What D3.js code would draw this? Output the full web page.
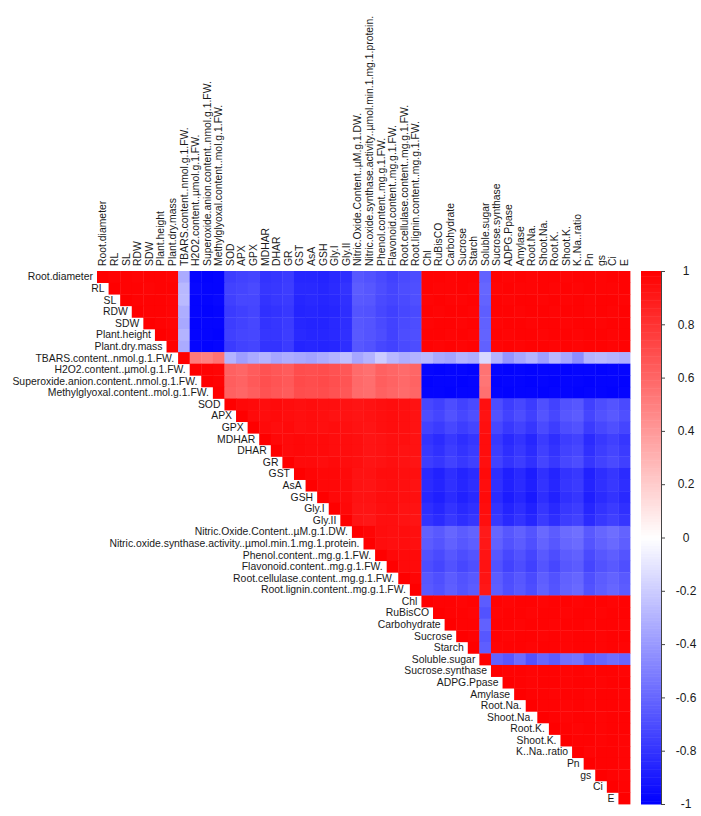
<!DOCTYPE html>
<html>
<head>
<meta charset="utf-8">
<script src="https://cdn.jsdelivr.net/npm/d3@7"></script>
<style>
  body { margin: 0; background: #fff; }
  text { font-family: "Liberation Sans", Arial, sans-serif; fill: #1a1a1a; }
</style>
</head>
<body>
<svg width="701" height="816"></svg>
<script>
const width = 701;
const height = 816;

// variable names (row / column order)
const labels = [
  "Root.diameter", "RL", "SL", "RDW", "SDW", "Plant.height", "Plant.dry.mass",
  "TBARS.content..nmol.g.1.FW.", "H2O2.content..\u00b5mol.g.1.FW.",
  "Superoxide.anion.content..nmol.g.1.FW.", "Methylglyoxal.content..mol.g.1.FW.",
  "SOD", "APX", "GPX", "MDHAR", "DHAR", "GR", "GST", "AsA", "GSH", "Gly.I", "Gly.II",
  "Nitric.Oxide.Content..\u00b5M.g.1.DW.",
  "Nitric.oxide.synthase.activity..\u00b5mol.min.1.mg.1.protein.",
  "Phenol.content..mg.g.1.FW.", "Flavonoid.content..mg.g.1.FW.",
  "Root.cellulase.content..mg.g.1.FW.", "Root.lignin.content..mg.g.1.FW.",
  "Chl", "RuBisCO", "Carbohydrate", "Sucrose", "Starch", "Soluble.sugar",
  "Sucrose.synthase", "ADPG.Ppase", "Amylase", "Root.Na.", "Shoot.Na.", "Root.K.",
  "Shoot.K.", "K..Na..ratio", "Pn", "gs", "Ci", "E"
];

// upper triangle of the correlation matrix, each row starts at the diagonal
const upper = [
  [1,0.99,0.99,0.98,0.99,0.99,0.98, -0.33, -0.98,-0.99,-0.98, -0.76,-0.74,-0.73,-0.80,-0.79,-0.77,-0.85,-0.85,-0.86,-0.84,-0.82,-0.66,-0.68,-0.71,-0.74,-0.71,-0.70, 0.99,0.99,0.98,0.99,0.99, -0.62, 0.99,0.98,0.99,0.98,0.99,0.99,0.98,0.99,0.99,0.98,0.99,0.99],
  [1,0.99,0.99,0.98,0.99,0.99, -0.28, -0.97,-0.98,-0.98, -0.74,-0.73,-0.71,-0.79,-0.78,-0.76,-0.84,-0.84,-0.85,-0.83,-0.80,-0.64,-0.66,-0.70,-0.73,-0.70,-0.69, 0.99,0.98,0.98,0.99,0.98, -0.60, 0.98,0.99,0.98,0.98,0.99,0.98,0.99,0.98,0.99,0.98,0.98,0.99],
  [1,0.99,0.99,0.99,0.98, -0.27, -0.98,-0.98,-0.97, -0.75,-0.72,-0.72,-0.80,-0.78,-0.77,-0.85,-0.84,-0.85,-0.84,-0.81,-0.65,-0.66,-0.71,-0.73,-0.71,-0.69, 0.98,0.99,0.98,0.98,0.99, -0.61, 0.99,0.98,0.99,0.99,0.98,0.99,0.98,0.99,0.98,0.99,0.99,0.98],
  [1,0.99,0.99,0.98, -0.32, -0.98,-0.99,-0.98, -0.77,-0.75,-0.73,-0.81,-0.80,-0.78,-0.86,-0.85,-0.86,-0.85,-0.82,-0.67,-0.68,-0.72,-0.75,-0.72,-0.71, 0.99,0.98,0.99,0.99,0.98, -0.63, 0.99,0.99,0.98,0.99,0.99,0.98,0.99,0.99,0.98,0.99,0.98,0.99],
  [1,0.99,0.98, -0.34, -0.99,-0.98,-0.98, -0.76,-0.74,-0.72,-0.80,-0.79,-0.77,-0.85,-0.86,-0.86,-0.84,-0.82,-0.66,-0.67,-0.71,-0.74,-0.71,-0.70, 0.98,0.99,0.99,0.98,0.99, -0.62, 0.98,0.99,0.99,0.98,0.99,0.99,0.98,0.99,0.99,0.98,0.99,0.99],
  [1,0.99, -0.30, -0.98,-0.98,-0.99, -0.75,-0.73,-0.72,-0.79,-0.79,-0.76,-0.84,-0.85,-0.85,-0.84,-0.81,-0.65,-0.67,-0.70,-0.74,-0.70,-0.69, 0.99,0.99,0.98,0.99,0.98, -0.61, 0.99,0.98,0.99,0.99,0.98,0.99,0.99,0.98,0.99,0.99,0.98,0.99],
  [1, -0.33, -0.98,-0.99,-0.98, -0.77,-0.74,-0.73,-0.80,-0.80,-0.77,-0.86,-0.85,-0.86,-0.85,-0.82,-0.66,-0.68,-0.72,-0.74,-0.71,-0.70, 0.99,0.98,0.99,0.98,0.99, -0.62, 0.98,0.99,0.98,0.99,0.99,0.98,0.99,0.98,0.99,0.99,0.98,0.99],
  [1, 0.52,0.50,0.55, -0.30,-0.38,-0.33,-0.30,-0.35,-0.32,-0.34,-0.36,-0.33,-0.30,-0.25,-0.35,-0.30,-0.20,-0.28,-0.32,-0.30, -0.28,-0.34,-0.36,-0.30,-0.32, -0.15, -0.30,-0.42,-0.35,-0.30,-0.38,-0.28,-0.35,-0.45,-0.30,-0.28,-0.30,-0.32],
  [1,0.99,0.98, 0.62,0.60,0.64,0.68,0.66,0.64,0.70,0.69,0.70,0.68,0.66,0.58,0.56,0.62,0.60,0.58,0.60, -0.98,-0.99,-0.98,-0.98,-0.99, 0.55, -0.98,-0.99,-0.98,-0.99,-0.98,-0.98,-0.99,-0.98,-0.98,-0.99,-0.98,-0.98],
  [1,0.99, 0.63,0.61,0.65,0.69,0.67,0.65,0.71,0.70,0.71,0.69,0.67,0.59,0.57,0.63,0.61,0.59,0.61, -0.99,-0.98,-0.98,-0.99,-0.98, 0.54, -0.99,-0.98,-0.98,-0.99,-0.98,-0.99,-0.98,-0.98,-0.99,-0.98,-0.98,-0.99],
  [1, 0.62,0.60,0.63,0.68,0.66,0.64,0.70,0.69,0.70,0.68,0.66,0.58,0.57,0.62,0.60,0.58,0.60, -0.98,-0.98,-0.99,-0.98,-0.98, 0.56, -0.98,-0.99,-0.98,-0.98,-0.99,-0.98,-0.98,-0.99,-0.98,-0.98,-0.99,-0.98],
  [1,0.97,0.96,0.95,0.96,0.95,0.94,0.95,0.94,0.94,0.93,0.92,0.93,0.94,0.95,0.94,0.93, -0.72,-0.75,-0.70,-0.74,-0.71, 0.94, -0.70,-0.76,-0.72,-0.77,-0.69,-0.74,-0.68,-0.66,-0.75,-0.70,-0.67,-0.71],
  [1,0.96,0.95,0.96,0.95,0.94,0.95,0.94,0.93,0.93,0.92,0.93,0.94,0.95,0.94,0.93, -0.70,-0.73,-0.68,-0.72,-0.69, 0.93, -0.68,-0.74,-0.70,-0.75,-0.67,-0.72,-0.66,-0.64,-0.73,-0.68,-0.65,-0.69],
  [1,0.96,0.95,0.96,0.94,0.95,0.94,0.95,0.94,0.93,0.92,0.94,0.95,0.94,0.93, -0.74,-0.77,-0.72,-0.76,-0.73, 0.94, -0.72,-0.78,-0.74,-0.79,-0.71,-0.76,-0.70,-0.68,-0.77,-0.72,-0.69,-0.73],
  [1,0.97,0.96,0.97,0.96,0.96,0.95,0.95,0.94,0.92,0.93,0.94,0.94,0.93, -0.80,-0.83,-0.78,-0.82,-0.79, 0.95, -0.78,-0.84,-0.80,-0.85,-0.77,-0.82,-0.76,-0.74,-0.83,-0.78,-0.75,-0.79],
  [1,0.96,0.97,0.96,0.96,0.95,0.95,0.94,0.92,0.93,0.94,0.93,0.93, -0.78,-0.81,-0.76,-0.80,-0.77, 0.95, -0.76,-0.82,-0.78,-0.83,-0.75,-0.80,-0.74,-0.72,-0.81,-0.76,-0.73,-0.77],
  [1,0.96,0.96,0.95,0.96,0.95,0.94,0.92,0.93,0.94,0.93,0.92, -0.76,-0.79,-0.74,-0.78,-0.75, 0.94, -0.74,-0.80,-0.76,-0.81,-0.73,-0.78,-0.72,-0.70,-0.79,-0.74,-0.71,-0.75],
  [1,0.98,0.97,0.97,0.96,0.93,0.93,0.95,0.95,0.94,0.94, -0.84,-0.87,-0.82,-0.86,-0.83, 0.96, -0.82,-0.88,-0.84,-0.89,-0.81,-0.86,-0.80,-0.78,-0.87,-0.82,-0.79,-0.83],
  [1,0.97,0.97,0.96,0.93,0.92,0.94,0.95,0.94,0.93, -0.83,-0.86,-0.81,-0.85,-0.82, 0.95, -0.81,-0.87,-0.83,-0.88,-0.80,-0.85,-0.79,-0.77,-0.86,-0.81,-0.78,-0.82],
  [1,0.97,0.96,0.93,0.93,0.95,0.95,0.94,0.94, -0.85,-0.88,-0.83,-0.87,-0.84, 0.96, -0.83,-0.89,-0.85,-0.90,-0.82,-0.87,-0.81,-0.79,-0.88,-0.83,-0.80,-0.84],
  [1,0.97,0.92,0.92,0.94,0.95,0.93,0.93, -0.82,-0.85,-0.80,-0.84,-0.81, 0.95, -0.80,-0.86,-0.82,-0.87,-0.79,-0.84,-0.78,-0.76,-0.85,-0.80,-0.77,-0.81],
  [1,0.92,0.91,0.94,0.94,0.93,0.92, -0.80,-0.83,-0.78,-0.82,-0.79, 0.94, -0.78,-0.84,-0.80,-0.85,-0.77,-0.82,-0.76,-0.74,-0.83,-0.78,-0.75,-0.79],
  [1,0.98,0.95,0.94,0.95,0.94, -0.62,-0.65,-0.60,-0.64,-0.61, 0.90, -0.60,-0.66,-0.62,-0.67,-0.59,-0.64,-0.58,-0.56,-0.65,-0.60,-0.57,-0.61],
  [1,0.95,0.94,0.95,0.94, -0.64,-0.67,-0.62,-0.66,-0.63, 0.91, -0.62,-0.68,-0.64,-0.69,-0.61,-0.66,-0.60,-0.58,-0.67,-0.62,-0.59,-0.63],
  [1,0.97,0.96,0.96, -0.68,-0.71,-0.66,-0.70,-0.67, 0.92, -0.66,-0.72,-0.68,-0.73,-0.65,-0.70,-0.64,-0.62,-0.71,-0.66,-0.63,-0.67],
  [1,0.96,0.96, -0.70,-0.73,-0.68,-0.72,-0.69, 0.93, -0.68,-0.74,-0.70,-0.75,-0.67,-0.72,-0.66,-0.64,-0.73,-0.68,-0.65,-0.69],
  [1,0.98, -0.66,-0.69,-0.64,-0.68,-0.65, 0.92, -0.64,-0.70,-0.66,-0.71,-0.63,-0.68,-0.62,-0.60,-0.69,-0.64,-0.61,-0.65],
  [1, -0.65,-0.68,-0.63,-0.67,-0.64, 0.91, -0.63,-0.69,-0.65,-0.70,-0.62,-0.67,-0.61,-0.59,-0.68,-0.63,-0.60,-0.64],
  [1,0.99,0.99,0.98,0.99, -0.64, 0.99,0.98,0.99,0.99,0.98,0.99,0.99,0.98,0.99,0.99,0.98,0.99],
  [1,0.99,0.99,0.98, -0.68, 0.98,0.99,0.99,0.98,0.99,0.99,0.98,0.99,0.99,0.98,0.99,0.99],
  [1,0.99,0.99, -0.62, 0.99,0.99,0.98,0.99,0.99,0.98,0.99,0.99,0.98,0.99,0.99,0.98],
  [1,0.99, -0.66, 0.99,0.98,0.99,0.99,0.98,0.99,0.98,0.99,0.99,0.98,0.99,0.99],
  [1, -0.63, 0.98,0.99,0.99,0.98,0.99,0.99,0.98,0.99,0.99,0.98,0.99,0.98],
  [1, -0.62,-0.66,-0.58,-0.68,-0.60,-0.64,-0.56,-0.55,-0.63,-0.60,-0.57,-0.60],
  [1,0.99,0.99,0.98,0.99,0.99,0.98,0.99,0.98,0.99,0.99,0.98],
  [1,0.99,0.98,0.99,0.99,0.98,0.99,0.99,0.98,0.99,0.99],
  [1,0.99,0.99,0.98,0.99,0.99,0.98,0.99,0.99,0.98],
  [1,0.99,0.99,0.98,0.99,0.98,0.99,0.99,0.98],
  [1,0.99,0.98,0.99,0.99,0.98,0.99,0.99],
  [1,0.99,0.98,0.99,0.98,0.99,0.99],
  [1,0.99,0.99,0.98,0.99,0.98],
  [1,0.98,0.99,0.99,0.98],
  [1,0.99,0.99,0.98],
  [1,0.99,0.98],
  [1,0.99],
  [1]
];

// colour legend ticks
const legendTicks = [1, 0.8, 0.6, 0.4, 0.2, 0, -0.2, -0.4, -0.6, -0.8, -1];

const svg = d3.select("svg");

const gridLeft = 97, gridTop = 271, gridSize = 533;

const x = d3.scaleBand().domain(labels).range([gridLeft, gridLeft + gridSize]);
const y = d3.scaleBand().domain(labels).range([gridTop, gridTop + gridSize]);

const color = d3.scaleLinear()
  .domain([-1, 0, 1])
  .range(["#0000ff", "#ffffff", "#ff0000"]);

// flatten to cells
let cells = [];
upper.forEach((row, i) => {
  row.forEach((v, k) => {
    cells.push({ r: labels[i], c: labels[i + k], v: v });
  });
});

svg.append("g")
  .selectAll("rect")
  .data(cells)
  .enter().append("rect")
  .attr("x", d => x(d.c))
  .attr("y", d => y(d.r))
  .attr("width", x.bandwidth() + 0.4)
  .attr("height", y.bandwidth() + 0.4)
  .attr("fill", d => color(d.v));

// column labels on top
svg.append("g")
  .selectAll("text")
  .data(labels)
  .enter().append("text")
  .attr("transform", d => `translate(${x(d) + x.bandwidth() / 2},${gridTop - 5}) rotate(-90)`)
  .attr("dy", "0.35em")
  .attr("font-size", 10.4)
  .text(d => d);

// row labels beside the diagonal
svg.append("g")
  .selectAll("text")
  .data(labels)
  .enter().append("text")
  .attr("x", d => x(d) - 4)
  .attr("y", d => y(d) + y.bandwidth() / 2)
  .attr("dy", "0.35em")
  .attr("text-anchor", "end")
  .attr("font-size", 10.4)
  .text(d => d);

// colour legend
const legY = d3.scaleLinear().domain([-1, 1]).range([gridTop + gridSize, gridTop]);
const legX = 641, legW = 20;

const steps = d3.range(200);
svg.append("g")
  .selectAll("rect")
  .data(steps)
  .enter().append("rect")
  .attr("x", legX)
  .attr("y", s => legY(-1 + (s + 1) * 0.01))
  .attr("width", legW)
  .attr("height", legY(-1) - legY(-0.99) + 0.5)
  .attr("fill", s => color(-1 + (s + 0.5) * 0.01));

const leg = svg.append("g").attr("transform", `translate(${legX + legW},0)`);
const axis = d3.axisRight(legY).tickValues(legendTicks).tickSize(4).tickFormat("");
leg.call(axis);
leg.select(".domain").attr("stroke", "#444");
leg.selectAll(".tick line").attr("stroke", "#444");

svg.append("g")
  .selectAll("text")
  .data(legendTicks)
  .enter().append("text")
  .attr("x", 686)
  .attr("y", d => legY(d))
  .attr("dy", "0.35em")
  .attr("text-anchor", "middle")
  .attr("font-size", 12)
  .text(d => d);
</script>
</body>
</html>
